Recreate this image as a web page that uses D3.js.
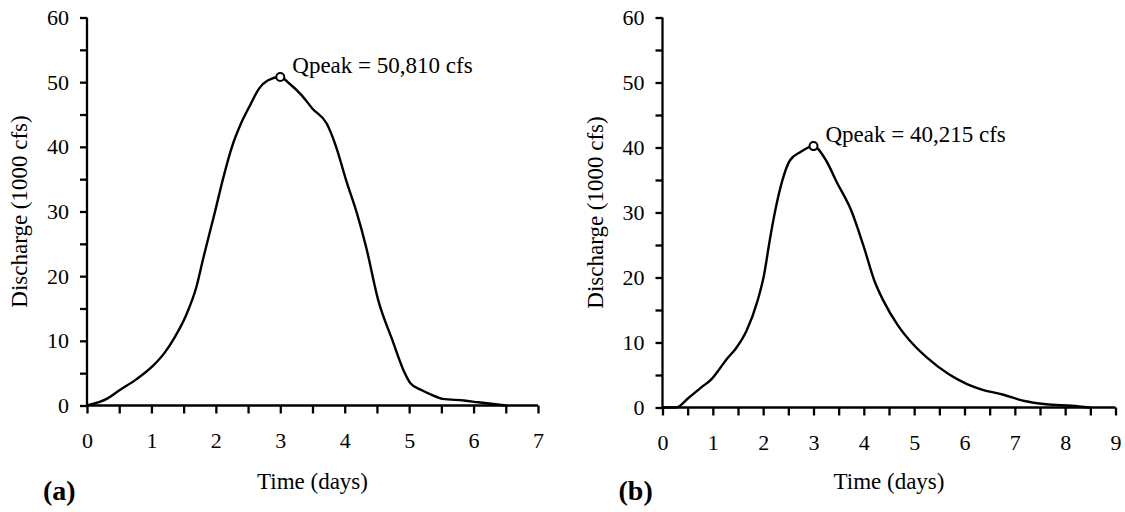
<!DOCTYPE html>
<html>
<head>
<meta charset="utf-8">
<script src="https://cdn.jsdelivr.net/npm/d3@7"></script>
<style>
  body { margin: 0; background: #fff; }
  svg { display: block; font-family: "Liberation Serif", "Times New Roman", serif; }
</style>
</head>
<body>
<div id="chart"></div>
<script>
// hydrograph (a) : time in days, discharge in 1000 cfs
const timeA = [0, 0.32, 0.51, 0.76, 1.01, 1.2, 1.37, 1.54, 1.7, 1.81, 1.98, 2.12, 2.25, 2.39, 2.53, 2.67, 2.81, 3.0,
  3.14, 3.33, 3.5, 3.72, 3.86, 4.02, 4.19, 4.33, 4.52, 4.74, 4.91, 5.02, 5.19, 5.35, 5.52, 5.85, 6.07, 6.51];
const flowA = [0, 1.1, 2.4, 4.0, 6.0, 8.1, 10.7, 14.0, 18.4, 23.0, 29.7, 35.4, 40.0, 43.6, 46.4, 49.0, 50.3, 50.81,
  49.8, 48.0, 45.9, 43.6, 40.2, 34.9, 29.7, 24.6, 16.3, 10.1, 5.5, 3.45, 2.4, 1.65, 1.03, 0.77, 0.5, 0];

// hydrograph (b)
const timeB = [0, 0.27, 0.52, 0.77, 0.98, 1.13, 1.27, 1.45, 1.67, 1.88, 2.02, 2.13, 2.24, 2.38, 2.53, 2.74, 3.0,
  3.25, 3.46, 3.75, 4.0, 4.21, 4.39, 4.68, 4.97, 5.25, 5.69, 6.05, 6.33, 6.76, 7.19, 7.62, 8.13, 8.49];
const flowB = [0, 0, 1.5, 3.1, 4.4, 5.9, 7.4, 9.0, 11.8, 16.2, 20.5, 25.7, 30.3, 34.9, 38.0, 39.3, 40.215,
  38.0, 34.7, 30.3, 24.7, 19.5, 16.4, 12.6, 9.8, 7.7, 5.1, 3.6, 2.8, 2.0, 1.0, 0.5, 0.26, 0];

const peakLabels = ["Qpeak = 50,810 cfs", "Qpeak = 40,215 cfs"];
const panelLabels = ["(a)", "(b)"];
const xMax = [7, 9];

const svg = d3.select("#chart").append("svg")
  .attr("width", 1125)
  .attr("height", 512);

const panels = [
  { t: timeA, q: flowA, left: 87, right: 538, bottom: 405.5, top: 17.5 },
  { t: timeB, q: flowB, left: 662.5, right: 1115.5, bottom: 407.5, top: 17.5 },
];

panels.forEach((p, i) => {
  const x = d3.scaleLinear().domain([0, xMax[i]]).range([p.left, p.right]);
  const y = d3.scaleLinear().domain([0, 60]).range([p.bottom, p.top]);
  const g = svg.append("g");

  // y axis: major ticks every 10, minor every 5
  const yAxis = g.append("g")
    .attr("transform", `translate(${p.left},0)`)
    .call(d3.axisLeft(y).tickValues(d3.range(0, 61, 5)).tickSize(7)
      .tickFormat((d) => (d % 10 === 0 ? d : "")).tickPadding(11));
  // x axis: major every day, minor every half day
  const xAxis = g.append("g")
    .attr("transform", `translate(0,${p.bottom})`)
    .call(d3.axisBottom(x).tickValues(d3.range(0, xMax[i] + 0.01, 0.5)).tickSize(8)
      .tickFormat((d) => (Number.isInteger(d) ? d : "")).tickPadding(19));

  [yAxis, xAxis].forEach((ax) => {
    ax.select(".domain").attr("stroke", "#000").attr("stroke-width", 2.3);
    ax.selectAll(".tick line").attr("stroke", "#000").attr("stroke-width", 2.3);
    ax.selectAll(".tick text")
      .attr("fill", "#000")
      .style("font-size", "22px")
      .style("font-family", "Liberation Serif, serif");
  });
  yAxis.select(".domain").attr("d", `M0,${p.bottom}V${p.top}`);
  xAxis.select(".domain").attr("d", `M${p.left},0H${p.right}`);

  // hydrograph line
  const line = d3.line()
    .x((d, k) => x(p.t[k]))
    .y((d) => y(d))
    .curve(d3.curveMonotoneX);
  g.append("path")
    .datum(p.q)
    .attr("fill", "none")
    .attr("stroke", "#000")
    .attr("stroke-width", 2.4)
    .attr("d", line);

  // peak marker + label
  const k = p.q.indexOf(d3.max(p.q));
  g.append("circle")
    .attr("cx", x(p.t[k]))
    .attr("cy", y(p.q[k]))
    .attr("r", 4)
    .attr("fill", "#fff")
    .attr("stroke", "#000")
    .attr("stroke-width", 2);
  g.append("text")
    .attr("x", x(p.t[k]) + 12)
    .attr("y", y(p.q[k]) - 4)
    .style("font-size", "23px")
    .text(peakLabels[i]);

  // axis titles
  g.append("text")
    .attr("transform", `translate(${p.left - 60},${(p.top + p.bottom) / 2}) rotate(-90)`)
    .attr("text-anchor", "middle")
    .style("font-size", "23px")
    .text("Discharge (1000 cfs)");
  g.append("text")
    .attr("x", (p.left + p.right) / 2)
    .attr("y", 489)
    .attr("text-anchor", "middle")
    .style("font-size", "23px")
    .text("Time (days)");
  g.append("text")
    .attr("x", p.left - 44)
    .attr("y", 500)
    .style("font-size", "28px")
    .style("font-weight", "bold")
    .text(panelLabels[i]);
});
</script>
</body>
</html>
